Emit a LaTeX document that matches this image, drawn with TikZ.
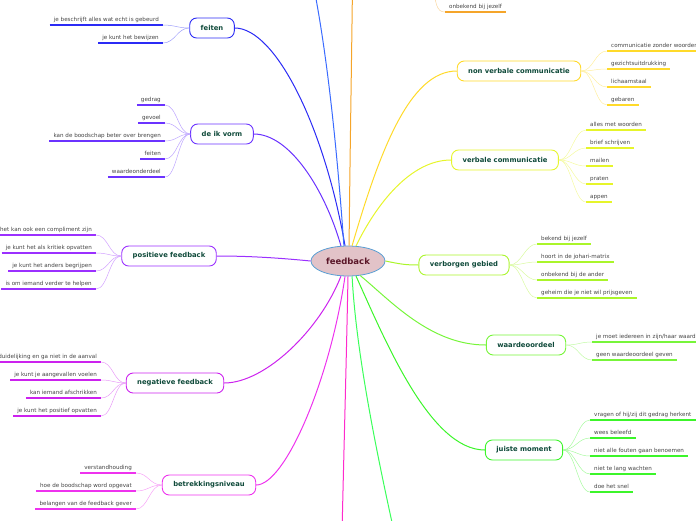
\documentclass[tikz,border=0pt]{standalone}
\usepackage{fontspec}
\setmainfont{DejaVu Sans}
\usepackage{xcolor}
\usepackage{tikz}
\usetikzlibrary{shapes.geometric}

\definecolor{rootfill}{HTML}{E2C3C8}
\definecolor{rootline}{HTML}{5A9FD4}
\definecolor{roottext}{HTML}{5A1628}
\definecolor{branchtext}{HTML}{0F4A3A}
\definecolor{leaftext}{HTML}{444444}
\definecolor{feitencol}{HTML}{2B2BF5}
\definecolor{ikvormcol}{HTML}{6B33FF}
\definecolor{positiefcol}{HTML}{9B30FF}
\definecolor{negatiefcol}{HTML}{CC22EE}
\definecolor{relatiecol}{HTML}{EE33EE}
\definecolor{nonverbaalcol}{HTML}{FFDA2A}
\definecolor{verbaalcol}{HTML}{E6F52A}
\definecolor{verborgencol}{HTML}{AAF52A}
\definecolor{waardecol}{HTML}{77F53A}
\definecolor{momentcol}{HTML}{3CF52A}
\definecolor{upperblue}{HTML}{3A6BFF}
\definecolor{upperorange}{HTML}{F5A52A}
\definecolor{lowermagenta}{HTML}{FF2ACC}
\definecolor{lowergreen}{HTML}{3AFF5A}

\begin{document}
\begin{tikzpicture}[
    x=1pt, y=-1pt,
    topic/.style={ellipse, draw=rootline, fill=rootfill, line width=0.8pt, minimum width=74pt, minimum height=30pt, inner sep=0pt, text=roottext, font=\bfseries\fontsize{8.5}{10}\selectfont},
    branch/.style={rectangle, rounded corners=7pt, draw=#1, fill=white, line width=0.9pt, minimum height=20pt, inner xsep=11pt, text=branchtext, font=\bfseries\fontsize{6.8}{8}\selectfont},
    leaf/.style={inner xsep=4pt, inner ysep=2.6pt, text height=4pt, text depth=1.2pt, text=leaftext, font=\fontsize{5.6}{6.5}\selectfont,
        append after command={(\tikzlastnode.south west) edge[draw=#1, line width=1.2pt] (\tikzlastnode.south east)}},
    leafl/.style={leaf=#1, anchor=south east},
    leafr/.style={leaf=#1, anchor=south west},
    link/.style={draw=#1, line width=1pt},
    twig/.style={draw=#1!45, line width=0.5pt},
    twigl/.style={to path={.. controls +(-12,0) and +(12,0) .. (\tikztotarget)}},
    twigr/.style={to path={.. controls +(12,0) and +(-12,0) .. (\tikztotarget)}}
]
    \useasboundingbox (0,0) rectangle (696,520);

    \node[topic] (feedback) at (348,261) {feedback};

    % branches
    \node[branch=feitencol] (feiten) at (212,28) {feiten};
    \node[branch=ikvormcol] (ikvorm) at (222,134) {de ik vorm};
    \node[branch=positiefcol] (positief) at (169,256) {positieve feedback};
    \node[branch=negatiefcol] (negatief) at (175,383) {negatieve feedback};
    \node[branch=relatiecol] (relatie) at (209,485) {betrekkingsniveau};
    \node[branch=nonverbaalcol] (nonverbaal) at (519,71) {non verbale communicatie};
    \node[branch=verbaalcol] (verbaal) at (505,160) {verbale communicatie};
    \node[branch=verborgencol] (verborgen) at (464,265) {verborgen gebied};
    \node[branch=waardecol] (waarde) at (526,345) {waardeoordeel};
    \node[branch=momentcol] (moment) at (524,450) {juiste moment};

    % branches running off the page
    \coordinate (upperblue) at (303,-60);
    \coordinate (upperorange) at (353,-60);
    \coordinate (lowermagenta) at (341,580);
    \coordinate (lowergreen) at (405,580);
    \coordinate (orangetop) at (433,-20);

    % leaves
    \node[leafl=feitencol] (feiten1) at (163,25) {je beschrijft alles wat echt is gebeurd};
    \node[leafl=feitencol] (feiten2) at (163,43) {je kunt het bewijzen};

    \node[leafl=ikvormcol] (ikvorm1) at (165,105) {gedrag};
    \node[leafl=ikvormcol] (ikvorm2) at (165,123) {gevoel};
    \node[leafl=ikvormcol] (ikvorm3) at (165,141) {kan de boodschap beter over brengen};
    \node[leafl=ikvormcol] (ikvorm4) at (165,159) {feiten};
    \node[leafl=ikvormcol] (ikvorm5) at (165,177) {waardeonderdeel};

    \node[leafl=positiefcol] (positief1) at (96,235) {het kan ook een compliment zijn};
    \node[leafl=positiefcol] (positief2) at (96,253) {je kunt het als kritiek opvatten};
    \node[leafl=positiefcol] (positief3) at (96,271) {je kunt het anders begrijpen};
    \node[leafl=positiefcol] (positief4) at (96,289) {is om iemand verder te helpen};

    \node[leafl=negatiefcol] (negatief1) at (101,362) {duidelijking en ga niet in de aanval};
    \node[leafl=negatiefcol] (negatief2) at (101,380) {je kunt je aangevallen voelen};
    \node[leafl=negatiefcol] (negatief3) at (101,398) {kan iemand afschrikken};
    \node[leafl=negatiefcol] (negatief4) at (101,416) {je kunt het positief opvatten};

    \node[leafl=relatiecol] (relatie1) at (136,473) {verstandhouding};
    \node[leafl=relatiecol] (relatie2) at (136,491) {hoe de boodschap word opgevat};
    \node[leafl=relatiecol] (relatie3) at (136,509) {belangen van de feedback gever};

    \node[leafr=upperorange] (orange1) at (445,12) {onbekend bij jezelf};

    \node[leafr=nonverbaalcol] (nonverbaal1) at (607,51) {communicatie zonder woorden};
    \node[leafr=nonverbaalcol] (nonverbaal2) at (607,69) {gezichtsuitdrukking};
    \node[leafr=nonverbaalcol] (nonverbaal3) at (607,87) {lichaamstaal};
    \node[leafr=nonverbaalcol] (nonverbaal4) at (607,105) {gebaren};

    \node[leafr=verbaalcol] (verbaal1) at (586,130) {alles met woorden};
    \node[leafr=verbaalcol] (verbaal2) at (586,148) {brief schrijven};
    \node[leafr=verbaalcol] (verbaal3) at (586,166) {mailen};
    \node[leafr=verbaalcol] (verbaal4) at (586,184) {praten};
    \node[leafr=verbaalcol] (verbaal5) at (586,202) {appen};

    \node[leafr=verborgencol] (verborgen1) at (537,244) {bekend bij jezelf};
    \node[leafr=verborgencol] (verborgen2) at (537,262) {hoort in de johari-matrix};
    \node[leafr=verborgencol] (verborgen3) at (537,280) {onbekend bij de ander};
    \node[leafr=verborgencol] (verborgen4) at (537,298) {geheim die je niet wil prijsgeven};

    \node[leafr=waardecol] (waarde1) at (592,342) {je moet iedereen in zijn/haar waarde};
    \node[leafr=waardecol] (waarde2) at (592,360) {geen waardeoordeel geven};

    \node[leafr=momentcol] (moment1) at (590,420) {vragen of hij/zij dit gedrag herkent};
    \node[leafr=momentcol] (moment2) at (590,438) {wees beleefd};
    \node[leafr=momentcol] (moment3) at (590,456) {niet alle fouten gaan benoemen};
    \node[leafr=momentcol] (moment4) at (590,474) {niet te lang wachten};
    \node[leafr=momentcol] (moment5) at (590,492) {doe het snel};

    % links from the centre
    \draw[link=feitencol] (feedback.101) .. controls (324,125) and (275,28) .. (feiten.east);
    \draw[link=ikvormcol] (feedback.115) .. controls (325,190) and (290,134) .. (ikvorm.east);
    \draw[link=upperblue] (feedback.105) .. controls (335,120) and (322,10) .. (upperblue);
    \draw[link=upperorange] (feedback.86) .. controls (350,150) and (352,40) .. (upperorange);
    \draw[link=nonverbaalcol] (feedback.75) .. controls (380,150) and (410,71) .. (nonverbaal.west);
    \draw[link=verbaalcol] (feedback.62) .. controls (376,205) and (410,160) .. (verbaal.west);
    \draw[link=verborgencol] (feedback.east) .. controls (400,264) and (405,265) .. (verborgen.west);
    \draw[link=waardecol] (feedback.-50) .. controls (390,300) and (430,345) .. (waarde.west);
    \draw[link=momentcol] (feedback.-62) .. controls (385,340) and (430,450) .. (moment.west);
    \draw[link=lowergreen] (feedback.-75) .. controls (356,350) and (375,450) .. (lowergreen);
    \draw[link=lowermagenta] (feedback.-90) .. controls (346,380) and (343,480) .. (lowermagenta);
    \draw[link=relatiecol] (feedback.-101) .. controls (330,380) and (285,485) .. (relatie.east);
    \draw[link=negatiefcol] (feedback.-115) .. controls (320,330) and (265,383) .. (negatief.east);
    \draw[link=positiefcol] (feedback.west) .. controls (280,258) and (250,256) .. (positief.east);

    % twigs to the leaves
    \draw[twig=feitencol] (feiten.west) edge[twigl] (feiten1.south east) edge[twigl] (feiten2.south east);
    \draw[twig=ikvormcol] (ikvorm.west) edge[twigl] (ikvorm1.south east) edge[twigl] (ikvorm2.south east)
        edge[twigl] (ikvorm3.south east) edge[twigl] (ikvorm4.south east) edge[twigl] (ikvorm5.south east);
    \draw[twig=positiefcol] (positief.west) edge[twigl] (positief1.south east) edge[twigl] (positief2.south east)
        edge[twigl] (positief3.south east) edge[twigl] (positief4.south east);
    \draw[twig=negatiefcol] (negatief.west) edge[twigl] (negatief1.south east) edge[twigl] (negatief2.south east)
        edge[twigl] (negatief3.south east) edge[twigl] (negatief4.south east);
    \draw[twig=relatiecol] (relatie.west) edge[twigl] (relatie1.south east) edge[twigl] (relatie2.south east)
        edge[twigl] (relatie3.south east);
    \draw[twig=upperorange] (orangetop) .. controls (435,5) and (437,12) .. (orange1.south west);
    \draw[twig=nonverbaalcol] (nonverbaal.east) edge[twigr] (nonverbaal1.south west) edge[twigr] (nonverbaal2.south west)
        edge[twigr] (nonverbaal3.south west) edge[twigr] (nonverbaal4.south west);
    \draw[twig=verbaalcol] (verbaal.east) edge[twigr] (verbaal1.south west) edge[twigr] (verbaal2.south west)
        edge[twigr] (verbaal3.south west) edge[twigr] (verbaal4.south west) edge[twigr] (verbaal5.south west);
    \draw[twig=verborgencol] (verborgen.east) edge[twigr] (verborgen1.south west) edge[twigr] (verborgen2.south west)
        edge[twigr] (verborgen3.south west) edge[twigr] (verborgen4.south west);
    \draw[twig=waardecol] (waarde.east) edge[twigr] (waarde1.south west) edge[twigr] (waarde2.south west);
    \draw[twig=momentcol] (moment.east) edge[twigr] (moment1.south west) edge[twigr] (moment2.south west)
        edge[twigr] (moment3.south west) edge[twigr] (moment4.south west) edge[twigr] (moment5.south west);
\end{tikzpicture}
\end{document}
